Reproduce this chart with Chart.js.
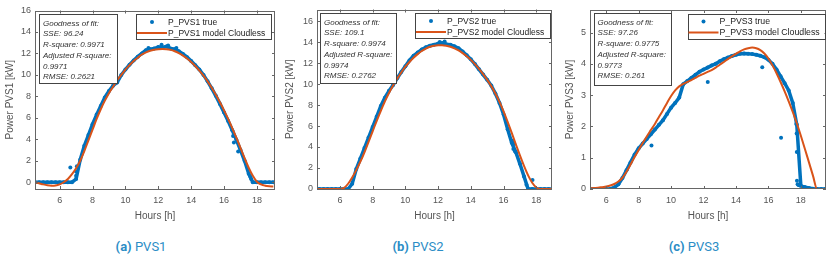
<!DOCTYPE html>
<html>
<head>
<meta charset="utf-8">
<script src="https://cdn.jsdelivr.net/npm/chart.js@4.4.1/dist/chart.umd.min.js"></script>
<style>
  body { margin: 0; background: #fff; width: 830px; height: 261px; position: relative; overflow: hidden; }
  .panel { position: absolute; top: 0; height: 226px; }
  .cap { position: absolute; top: 239px; transform: translateX(-50%); white-space: nowrap;
         font-family: Roboto, "Open Sans", sans-serif; font-size: 13px; line-height: 16px; color: #2b8dc6; }
  .cap b { font-weight: 700; }
</style>
</head>
<body>
<div class="panel" style="left:0;width:280px"><canvas id="c1"></canvas></div>
<div class="panel" style="left:280px;width:276px"><canvas id="c2"></canvas></div>
<div class="panel" style="left:556px;width:274px"><canvas id="c3"></canvas></div>
<div class="cap" style="left:141px"><b>(a)</b> PVS1</div>
<div class="cap" style="left:418px"><b>(b)</b> PVS2</div>
<div class="cap" style="left:694px"><b>(c)</b> PVS3</div>
<script>
// hour grids
const hoursAB = [4.5,4.75,5,5.25,5.5,5.75,6,6.25,6.5,6.75,7,7.25,7.5,7.75,8,8.25,8.5,8.75,9,9.25,9.5,9.75,10,10.25,10.5,10.75,11,11.25,11.5,11.75,12,12.25,12.5,12.75,13,13.25,13.5,13.75,14,14.25,14.5,14.75,15,15.25,15.5,15.75,16,16.25,16.5,16.75,17,17.25,17.5,17.75,18,18.25,18.5,18.75,19];
const hoursC = [5,5.25,5.5,5.75,6,6.25,6.5,6.75,7,7.25,7.5,7.75,8,8.25,8.5,8.75,9,9.25,9.5,9.75,10,10.25,10.5,10.75,11,11.25,11.5,11.75,12,12.25,12.5,12.75,13,13.25,13.5,13.75,14,14.25,14.5,14.75,15,15.25,15.5,15.75,16,16.25,16.5,16.75,17,17.25,17.5,17.75,18,18.25,18.5,18.75,19,19.25,19.5];

// PVS1
const true1 = [0,0,0,0,0,0,0,0,0,0,
  0.3,2.1,3.4,4.4,5.4,6.3,7.1,7.9,8.5,9.0,
  9.3,10.0,10.5,10.95,11.35,11.7,12.0,12.3,12.4,12.45,
  12.6,12.55,12.65,12.45,12.4,12.2,11.95,11.65,11.3,10.9,
  10.5,10.0,9.4,8.75,8.05,7.3,6.5,5.7,4.85,3.95,
  3.0,2.0,0.8,0,0,0,0,0,0];
const model1 = [0.0,-0.1,-0.2,-0.28,-0.32,-0.3,-0.2,0.0,0.3,0.75,
  1.3,2.0,2.9,3.9,4.9,5.9,6.8,7.6,8.3,8.9,
  9.5,10.0,10.5,10.9,11.3,11.6,11.9,12.1,12.25,12.35,
  12.4,12.42,12.4,12.33,12.2,12.02,11.8,11.52,11.2,10.83,
  10.4,9.93,9.4,8.8,8.15,7.45,6.7,5.9,5.05,4.15,
  3.2,2.25,1.35,0.6,0.05,-0.2,-0.32,-0.38,-0.4];
const extraX1 = [6.65,7.0,7.0,7.05,11.4,12.2,12.6,13.1,16.55,16.6,16.86,17.6,17.65];
const extraY1 = [1.37,0.6,1.0,1.5,12.5,12.8,12.75,12.5,4.3,3.7,2.86,0.5,0.3];

// PVS2
const true2 = [0,0,0,0,0,0,0,0,0,
  0.5,
  1.9,2.9,3.9,4.9,5.9,6.9,7.9,8.7,9.35,9.9,
  10.55,11.15,11.7,12.25,12.7,13.0,13.3,13.5,13.65,13.75,
  13.85,13.9,13.8,13.75,13.6,13.4,13.1,12.75,12.35,11.9,
  11.4,10.9,10.4,9.85,9.1,8.2,7.1,5.7,4.4,3.5,
  2.4,1.2,0,0,0,0,0,0,0];
const model2 = [0,0,0,0,0,0,
  0,0.1,0.5,1.1,
  1.8,2.6,3.5,4.5,5.5,6.5,7.45,8.35,9.15,9.85,
  10.5,11.1,11.65,12.1,12.5,12.85,13.15,13.38,13.55,13.65,
  13.7,13.7,13.65,13.55,13.4,13.2,12.95,12.65,12.3,11.9,
  11.45,10.95,10.4,9.8,9.1,8.3,7.4,6.4,5.35,4.25,
  3.2,2.2,1.3,0.6,0.15,0,0,0,0];
const extraX2 = [12.1,12.4,16.55,16.6,16.65,16.7,17.4,17.77];
const extraY2 = [14.0,14.05,4.6,3.8,4.3,3.6,0.4,0.86];

// PVS3
const true3 = [0,0,0,0,0,0,
  0.05,0.15,
  0.35,0.6,0.85,1.1,1.3,1.45,1.6,1.75,1.9,2.05,
  2.2,2.4,2.6,2.75,2.92,3.35,3.45,3.55,3.65,3.75,
  3.82,3.88,3.95,4.0,4.08,4.15,4.2,4.25,4.29,4.32,
  4.33,4.32,4.31,4.29,4.26,4.21,4.13,4.0,3.82,3.6,
  3.38,3.15,2.75,2.05,0.1,0.06,0.03,0.01,0,0,0];
const model3 = [0.02,0.03,0.04,0.06,0.08,0.11,
  0.16,0.24,
  0.36,0.55,0.78,1.02,1.25,1.47,1.68,1.88,2.08,2.3,
  2.52,2.75,2.97,3.15,3.28,3.36,3.42,3.48,3.55,3.62,
  3.68,3.74,3.8,3.88,3.97,4.06,4.15,4.24,4.32,4.4,
  4.46,4.5,4.52,4.5,4.44,4.33,4.17,3.95,3.7,3.42,
  3.12,2.8,2.46,2.1,1.7,1.28,0.85,0.42,0,0,0];
const extraX3 = [8.79,12.26,15.62,16.78,17.72,17.74,17.75,17.76,17.8,17.85,17.9];
const extraY3 = [1.39,3.42,3.89,1.64,2.08,1.77,1.18,0.26,0.15,0.13,0.12];

// ticks
const xTicks = [6,8,10,12,14,16,18];
const yTicksAB = [0,2,4,6,8,10,12,14,16];
const yTicksC = [0,1,2,3,4,5];

// fit statistics text
const fit1 = ['Goodness of fit:','SSE: 96.24','R-square: 0.9971','Adjusted R-square:','0.9971','RMSE: 0.2621'];
const fit2 = ['Goodness of fit:','SSE: 109.1','R-square: 0.9974','Adjusted R-square:','0.9974','RMSE: 0.2762'];
const fit3 = ['Goodness of fit:','SSE: 97.26','R-square: 0.9775','Adjusted R-square:','0.9773','RMSE: 0.261'];

const BLUE = '#0072BD';
const ORANGE = '#D95319';
const FONT = '"Liberation Sans", Arial, sans-serif';

const pts = (xs, ys) => xs.map((x, i) => ({ x: x, y: ys[i] }));

const boxesPlugin = {
  id: 'boxes',
  afterDraw(chart) {
    const o = chart.options.plugins.boxes;
    const { ctx, chartArea: a, scales } = chart;
    ctx.save();
    // axes frame with inward ticks
    ctx.strokeStyle = '#666';
    ctx.lineWidth = 1;
    ctx.strokeRect(Math.round(a.left) + 0.5, Math.round(a.top) + 0.5,
      Math.round(a.right - a.left) - 1, Math.round(a.bottom - a.top) - 1);
    ctx.beginPath();
    xTicks.forEach(v => {
      const px = Math.round(scales.x.getPixelForValue(v)) + 0.5;
      ctx.moveTo(px, a.bottom); ctx.lineTo(px, a.bottom - 3);
      ctx.moveTo(px, a.top); ctx.lineTo(px, a.top + 3);
    });
    o.yTicks.forEach(v => {
      const py = Math.round(scales.y.getPixelForValue(v)) + 0.5;
      ctx.moveTo(a.left, py); ctx.lineTo(a.left + 3, py);
      ctx.moveTo(a.right, py); ctx.lineTo(a.right - 3, py);
    });
    ctx.stroke();

    // goodness of fit box
    const g = o.fitBox;
    ctx.fillStyle = '#fff';
    ctx.fillRect(a.left + g.dx, a.top + g.dy, g.w, g.h);
    ctx.strokeStyle = '#444';
    ctx.strokeRect(Math.round(a.left + g.dx) + 0.5, Math.round(a.top + g.dy) + 0.5, g.w, g.h);
    ctx.fillStyle = '#333';
    ctx.font = 'italic 8px ' + FONT;
    ctx.textBaseline = 'middle';
    ctx.textAlign = 'left';
    o.fit.forEach((t, i) => ctx.fillText(t, a.left + g.dx + 4, a.top + g.dy + 9.5 + i * 10.7));

    // legend box
    const lg = o.legend;
    const lx = a.right - lg.dr - lg.w, ly = a.top + lg.dy;
    ctx.fillStyle = '#fff';
    ctx.fillRect(lx, ly, lg.w, 25);
    ctx.strokeStyle = '#444';
    ctx.strokeRect(Math.round(lx) + 0.5, Math.round(ly) + 0.5, lg.w, 25);
    ctx.fillStyle = BLUE;
    ctx.beginPath(); ctx.arc(lx + 16, ly + 8, 2, 0, Math.PI * 2); ctx.fill();
    ctx.strokeStyle = ORANGE; ctx.lineWidth = 2;
    ctx.beginPath(); ctx.moveTo(lx + 1, ly + 19); ctx.lineTo(lx + 31, ly + 19); ctx.stroke();
    ctx.fillStyle = '#222';
    // shrink the legend font a little if the longer label would touch the box edge
    const longLabel = chart.data.datasets[2].label;
    let fs = 9;
    ctx.font = fs + 'px ' + FONT;
    while (ctx.measureText(longLabel).width > lg.w - 36 && fs > 7) {
      fs -= 0.25;
      ctx.font = fs + 'px ' + FONT;
    }
    ctx.fillText(chart.data.datasets[0].label, lx + 32, ly + 8.5);
    ctx.fillText(longLabel, lx + 32, ly + 19.5);
    ctx.restore();
  }
};

function makePanel(id, p) {
  new Chart(document.getElementById(id), {
    type: 'scatter',
    data: {
      datasets: [
        { label: p.name + ' true', data: pts(p.hours, p.truth).concat(pts(p.exX, p.exY)),
          showLine: false, pointRadius: 2, pointBorderWidth: 0, backgroundColor: BLUE, order: 2 },
        { label: 'band', data: pts(p.hours, p.truth), showLine: true, borderColor: BLUE,
          borderWidth: 3.5, pointRadius: 0, tension: 0, order: 3 },
        { label: p.name + ' model Cloudless', data: pts(p.hours, p.model), showLine: true,
          borderColor: ORANGE, borderWidth: 2, pointRadius: 0, cubicInterpolationMode: 'monotone', order: 1 }
      ]
    },
    options: {
      responsive: true,
      maintainAspectRatio: false,
      animation: false,
      layout: { padding: { top: p.top, right: p.right, left: 0, bottom: 0 } },
      scales: {
        x: {
          type: 'linear', min: p.xmin, max: p.xmax,
          afterBuildTicks: s => { s.ticks = xTicks.map(v => ({ value: v })); },
          afterFit: s => { s.height = 37; },
          grid: { display: false, drawTicks: false },
          border: { display: false },
          ticks: { padding: 6, color: '#555', font: { family: FONT, size: 9 } },
          title: { display: true, text: 'Hours [h]', color: '#555',
                   font: { family: FONT, size: 10 }, padding: { top: 0, bottom: 4 } }
        },
        y: {
          type: 'linear', min: p.ymin, max: p.ymax,
          afterBuildTicks: s => { s.ticks = p.yTicks.map(v => ({ value: v })); },
          afterFit: s => { s.width = p.yw; },
          grid: { display: false, drawTicks: false },
          border: { display: false },
          ticks: { padding: 4, color: '#555', font: { family: FONT, size: 9 } },
          title: { display: true, text: 'Power ' + p.name.slice(2) + ' [kW]', color: '#555',
                   font: { family: FONT, size: 10 }, padding: { top: p.tpad, bottom: 0 } }
        }
      },
      plugins: {
        legend: { display: false },
        tooltip: { enabled: false },
        boxes: { yTicks: p.yTicks, fit: p.fit, fitBox: p.fitBox, legend: p.legend }
      }
    },
    plugins: [boxesPlugin]
  });
}

makePanel('c1', {
  name: 'P_PVS1', hours: hoursAB, truth: true1, model: model1, exX: extraX1, exY: extraY1,
  xmin: 4.5, xmax: 19.1, ymin: -0.63, ymax: 16, yTicks: yTicksAB, fit: fit1,
  yw: 35, top: 10.5, right: 5, tpad: 4,
  fitBox: { dx: 4, dy: 3.5, w: 78, h: 69 }, legend: { dr: 4, dy: 3.5, w: 135 }
});
makePanel('c2', {
  name: 'P_PVS2', hours: hoursAB, truth: true2, model: model2, exX: extraX2, exY: extraY2,
  xmin: 4.6, xmax: 18.96, ymin: 0, ymax: 17.1, yTicks: yTicksAB, fit: fit2,
  yw: 37, top: 9.5, right: 3.3, tpad: 4,
  fitBox: { dx: 3, dy: 3.5, w: 76, h: 70 }, legend: { dr: 2, dy: 3.5, w: 135 }
});
makePanel('c3', {
  name: 'P_PVS3', hours: hoursC, truth: true3, model: model3, exX: extraX3, exY: extraY3,
  xmin: 5.0, xmax: 19.55, ymin: 0, ymax: 5.72, yTicks: yTicksC, fit: fit3,
  yw: 34, top: 10, right: 2.7, tpad: 8,
  fitBox: { dx: 3.5, dy: 3, w: 77, h: 72 }, legend: { dr: 1.5, dy: 3.5, w: 137 }
});
</script>
</body>
</html>
